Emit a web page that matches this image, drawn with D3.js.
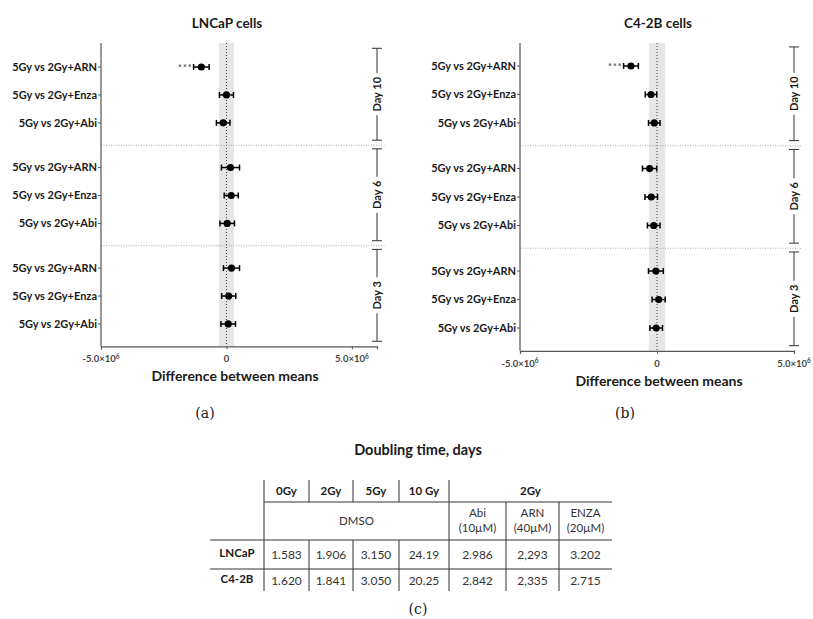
<!DOCTYPE html>
<html>
<head>
<meta charset="utf-8">
<script src="https://cdn.jsdelivr.net/npm/d3@7"></script>
<style>
  body { margin: 0; background: #fff; }
  text { font-family: Lato, 'Open Sans', sans-serif; fill: #1a1a1a; }
</style>
</head>
<body>
<div id="vizcontainer"></div>
<script>
// values, differences in units of 1e6
const comparisons = ['5Gy vs 2Gy+ARN', '5Gy vs 2Gy+Enza', '5Gy vs 2Gy+Abi'];
const days = ['Day 10', 'Day 6', 'Day 3'];
const lncapMean = [-1.00, 0.00, -0.13, 0.16, 0.19, 0.03, 0.20, 0.09, 0.07];
const lncapErr = [0.31, 0.28, 0.27, 0.36, 0.28, 0.29, 0.32, 0.28, 0.29];
const c42bMean = [-0.95, -0.22, -0.10, -0.27, -0.21, -0.12, -0.04, 0.06, -0.03];
const c42bErr = [0.27, 0.21, 0.21, 0.26, 0.23, 0.23, 0.27, 0.24, 0.23];
const stars = ['***', '', '', '', '', '', '', '', ''];
const band = 0.3; // grey equivalence band, +/-
const xTicks = [-5, 0, 5];

// table
const doseHeads = ['0Gy', '2Gy', '5Gy', '10 Gy'];
const drugHeads = [['Abi', '(10\u00B5M)'], ['ARN', '(40\u00B5M)'], ['ENZA', '(20\u00B5M)']];
const cellLines = ['LNCaP', 'C4-2B'];
const lncapTimes = ['1.583', '1.906', '3.150', '24.19', '2.986', '2,293', '3.202'];
const c42bTimes = ['1.620', '1.841', '3.050', '20.25', '2.842', '2,335', '2.715'];

const width = 813, height = 619;

const svg = d3.select('#vizcontainer')
  .append('svg')
  .attr('width', width)
  .attr('height', height);

const panels = [
  { title: 'LNCaP cells', mean: lncapMean, err: lncapErr, tag: '(a)',
    xr: [101, 377], dom: [-5e6, 6e6], y0: 67, step: 27.93, top: 43,
    titleX: 227, axTitleX: 235, tagX: 205 },
  { title: 'C4-2B cells', mean: c42bMean, err: c42bErr, tag: '(b)',
    xr: [520, 794], dom: [-5e6, 5e6], y0: 66, step: 28.48, top: 43,
    titleX: 658, axTitleX: 659, tagX: 625 }
];

panels.forEach(p => {
  const g = svg.append('g');
  const x = d3.scaleLinear().domain(p.dom).range(p.xr);
  // slot position: 3 rows per day, groups 3.6 slots apart
  const slot = d3.scaleLinear().domain([0, 1]).range([p.y0, p.y0 + p.step]);
  const rows = p.mean.map((m, i) => ({
    grp: Math.floor(i / 3), r: i % 3, m: m * 1e6, e: p.err[i] * 1e6, s: stars[i]
  }));
  const rowY = d => slot(d.grp * 3.6 + d.r);
  const yBottom = slot(10);

  // grey band and zero line
  g.append('rect')
    .attr('x', x(-band * 1e6)).attr('width', x(band * 1e6) - x(-band * 1e6))
    .attr('y', p.top).attr('height', yBottom - p.top)
    .attr('fill', '#e6e6e6');
  g.append('line')
    .attr('x1', x(0)).attr('x2', x(0)).attr('y1', p.top).attr('y2', yBottom)
    .attr('stroke', '#444').attr('stroke-dasharray', '1,2');

  // dotted separators between days
  [2.8, 6.4].forEach(s => {
    g.append('line')
      .attr('x1', p.xr[0]).attr('x2', p.xr[1] + 8)
      .attr('y1', slot(s)).attr('y2', slot(s))
      .attr('stroke', '#999').attr('stroke-width', 0.8).attr('stroke-dasharray', '1,1.5');
  });

  // title
  g.append('text')
    .attr('x', p.titleX).attr('y', 28)
    .attr('text-anchor', 'middle')
    .style('font-size', '13.5px').style('font-weight', 'bold')
    .text(p.title);

  // y axis with row labels
  g.append('line')
    .attr('x1', p.xr[0]).attr('x2', p.xr[0]).attr('y1', p.top).attr('y2', yBottom)
    .attr('stroke', '#555').attr('stroke-width', 1.2);
  g.selectAll('.ytick').data(rows).join('line')
    .attr('x1', p.xr[0] - 3).attr('x2', p.xr[0])
    .attr('y1', rowY).attr('y2', rowY)
    .attr('stroke', '#555');
  g.selectAll('.ylab').data(rows).join('text')
    .attr('x', p.xr[0] - 4).attr('y', rowY).attr('dy', '0.35em')
    .attr('text-anchor', 'end')
    .style('font-size', '11px').style('font-weight', 'bold')
    .text(d => comparisons[d.r]);

  // x axis
  const xAxis = g.append('g')
    .attr('transform', `translate(0,${yBottom})`)
    .call(d3.axisBottom(x).tickValues(xTicks.map(t => t * 1e6)).tickSize(3).tickFormat(''));
  xAxis.select('.domain').attr('stroke', '#555').attr('stroke-width', 1.2);
  xAxis.selectAll('.tick line').attr('stroke', '#555');
  const tl = g.selectAll('.xlab').data(xTicks).join('text')
    .attr('x', d => x(d * 1e6)).attr('y', yBottom + 16)
    .attr('text-anchor', 'middle')
    .style('font-size', '9.5px').style('font-weight', 'bold').style('fill', '#444');
  tl.filter(d => d === 0).text('0');
  tl.filter(d => d !== 0).each(function (d) {
    const t = d3.select(this);
    t.append('tspan').text((d < 0 ? '-' : '') + '5.0\u00D710');
    t.append('tspan').attr('dy', -3.5).style('font-size', '6.5px').text('6');
  });
  g.append('text')
    .attr('x', p.axTitleX).attr('y', yBottom + 35)
    .attr('text-anchor', 'middle')
    .style('font-size', '14px').style('font-weight', 'bold')
    .text('Difference between means');
  g.append('text')
    .attr('x', p.tagX).attr('y', 418)
    .attr('text-anchor', 'middle')
    .style('font-family', "'DejaVu Serif', serif").style('font-size', '14px')
    .text(p.tag);

  // error bars and points
  const pts = g.selectAll('.pt').data(rows).join('g');
  pts.append('line')
    .attr('x1', d => x(d.m - d.e)).attr('x2', d => x(d.m + d.e))
    .attr('y1', rowY).attr('y2', rowY)
    .attr('stroke', '#000').attr('stroke-width', 1.5);
  [-1, 1].forEach(sg => {
    pts.append('line')
      .attr('x1', d => x(d.m + sg * d.e)).attr('x2', d => x(d.m + sg * d.e))
      .attr('y1', d => rowY(d) - 3).attr('y2', d => rowY(d) + 3)
      .attr('stroke', '#000').attr('stroke-width', 1.5);
  });
  pts.append('circle')
    .attr('cx', d => x(d.m)).attr('cy', rowY).attr('r', 3.6)
    .attr('fill', '#000');
  pts.filter(d => d.s).append('text')
    .attr('x', d => x(d.m - d.e) - 1).attr('y', rowY).attr('dy', '0.45em')
    .attr('text-anchor', 'end')
    .style('font-size', '9px').style('font-weight', 'bold').style('fill', '#555')
    .style('letter-spacing', '1px')
    .text(d => d.s);

  // day brackets on the right
  const bx = p.xr[1];
  days.forEach((dname, gi) => {
    const ya = slot(gi * 3.6 - 0.67), yb = slot(gi * 3.6 + 2.62), ym = (ya + yb) / 2;
    const half = dname.length > 5 ? 21 : 18;
    const bg = g.append('g');
    bg.append('line').attr('x1', bx).attr('x2', bx).attr('y1', ya).attr('y2', ym - half)
      .attr('stroke', '#333');
    bg.append('line').attr('x1', bx).attr('x2', bx).attr('y1', ym + half).attr('y2', yb)
      .attr('stroke', '#333');
    [ya, yb].forEach(yy => bg.append('line')
      .attr('x1', bx - 5).attr('x2', bx + 5).attr('y1', yy).attr('y2', yy)
      .attr('stroke', '#333'));
    bg.append('text')
      .attr('transform', `translate(${bx},${ym}) rotate(-90)`)
      .attr('text-anchor', 'middle').attr('dy', '0.35em')
      .style('font-size', '11px').style('font-weight', 'bold')
      .text(dname);
  });
});

// ---- table (c)
const tg = svg.append('g');
const colX = [264, 309, 353, 399, 449, 506, 559, 612];
const rowLine = { top: 480, head: 502, r1: 540, r2: 569, bottom: 591 };
const line = (x1, y1, x2, y2) => tg.append('line')
  .attr('x1', x1).attr('y1', y1).attr('x2', x2).attr('y2', y2)
  .attr('stroke', '#333').attr('stroke-width', 1);

tg.append('text')
  .attr('x', 418).attr('y', 455).attr('text-anchor', 'middle')
  .style('font-size', '14.5px').style('font-weight', 'bold')
  .text('Doubling time, days');

line(colX[0], rowLine.head, colX[7], rowLine.head);
line(210, rowLine.r1, colX[7], rowLine.r1);
line(210, rowLine.r2, colX[7], rowLine.r2);
line(colX[0], rowLine.top, colX[0], rowLine.bottom);
line(colX[4], rowLine.top, colX[4], rowLine.bottom);
[1, 2, 3].forEach(i => {
  line(colX[i], rowLine.top, colX[i], rowLine.head);
  line(colX[i], rowLine.r1, colX[i], rowLine.bottom);
});
[5, 6].forEach(i => line(colX[i], rowLine.head, colX[i], rowLine.bottom));

const cx = i => (colX[i] + colX[i + 1]) / 2;
doseHeads.forEach((h, i) => tg.append('text')
  .attr('x', cx(i)).attr('y', 495).attr('text-anchor', 'middle')
  .style('font-size', '11.5px').style('font-weight', 'bold').text(h));
tg.append('text')
  .attr('x', (colX[4] + colX[7]) / 2).attr('y', 495).attr('text-anchor', 'middle')
  .style('font-size', '11.5px').style('font-weight', 'bold').text('2Gy');
tg.append('text')
  .attr('x', (colX[0] + colX[4]) / 2).attr('y', 525).attr('text-anchor', 'middle')
  .style('font-size', '11.5px').style('fill', '#333').text('DMSO');
drugHeads.forEach((h, i) => {
  const t = tg.append('text').attr('text-anchor', 'middle')
    .style('font-size', '11.5px').style('fill', '#333');
  t.append('tspan').attr('x', cx(i + 4)).attr('y', 517).text(h[0]);
  t.append('tspan').attr('x', cx(i + 4)).attr('y', 532).text(h[1]);
});
[[lncapTimes, 559], [c42bTimes, 585]].forEach(([vals, yy], ri) => {
  tg.append('text')
    .attr('x', 237).attr('y', yy - 2).attr('text-anchor', 'middle')
    .style('font-size', '11.5px').style('font-weight', 'bold').text(cellLines[ri]);
  vals.forEach((v, i) => tg.append('text')
    .attr('x', cx(i)).attr('y', yy).attr('text-anchor', 'middle')
    .style('font-size', '12px').style('fill', '#333').text(v));
});
tg.append('text')
  .attr('x', 418).attr('y', 614).attr('text-anchor', 'middle')
  .style('font-family', "'DejaVu Serif', serif").style('font-size', '14px')
  .text('(c)');
</script>
</body>
</html>
